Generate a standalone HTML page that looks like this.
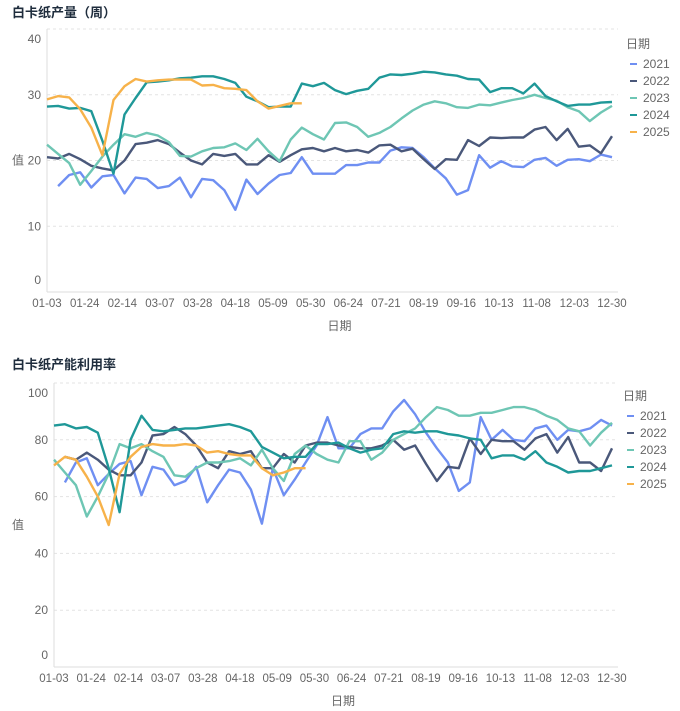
<!DOCTYPE html>
<html><head><meta charset="utf-8">
<style>
body{margin:0;background:#fff;width:680px;height:711px;overflow:hidden;font-family:"Liberation Sans","Noto Sans CJK SC",sans-serif;}
svg{position:absolute;left:0;}
text{font-family:"Liberation Sans","Noto Sans CJK SC",sans-serif;}
</style></head>
<body>
<svg id="c1" width="680" height="350" style="top:0"></svg>
<svg id="c2" width="680" height="361" style="top:350px"></svg>
<script>
const categories=["01-03","01-10","01-17","01-24","01-31","02-07","02-10","02-14","02-21","02-28","03-07","03-14","03-21","03-24","03-28","04-04","04-11","04-18","04-25","05-02","05-09","05-16","05-23","05-26","05-30","06-06","06-13","06-24","07-01","07-08","07-15","07-21","07-28","08-04","08-19","08-26","09-02","09-16","09-23","09-30","10-07","10-13","10-20","10-27","11-08","11-15","11-22","11-29","12-03","12-10","12-17","12-30"];
const tickLabels=["01-03","01-24","02-14","03-07","03-28","04-18","05-09","05-30","06-24","07-21","08-19","09-16","10-13","11-08","12-03","12-30"];
const seriesNames=["2021","2022","2023","2024","2025"];
const colors=["#6f8ff2","#4a587a","#6ec6b4","#1f9898","#f7b24a"];
const prodTicks=[0,10,20,30,40];
const utilTicks=[0,20,40,60,80,100];

const prod2021=[null,16.1,17.8,18.2,15.9,17.6,17.8,15,17.4,17.2,15.8,16.1,17.4,14.4,17.2,17,15.5,12.5,17.1,14.9,16.5,17.8,18.1,20.5,18,18,18,19.3,19.3,19.7,19.7,21.5,22,21.9,20.5,18.8,17.3,14.8,15.5,20.8,18.9,19.9,19.1,19,20.1,20.4,19.2,20.1,20.2,19.9,20.9,20.5];
const prod2022=[20.5,20.3,21,20.2,19.2,18.8,18.5,20,22.5,22.7,23.1,22.5,21.2,20,19.4,21,20.7,21,19.4,19.4,20.8,19.8,20.8,21.7,21.9,21.4,21.9,21.4,21.6,21.2,22.3,22.4,21.4,21.8,20.2,18.7,20.2,20.1,23.1,22.2,23.5,23.4,23.5,23.5,24.7,25.1,23.1,24.8,22.1,22.3,21.1,23.7];
const prod2023=[22.4,21,19.6,16.3,18.4,20.6,22.4,24,23.6,24.2,23.8,22.8,20.7,20.6,21.4,21.9,22,22.6,21.6,23.3,21.4,19.9,23.2,25,24,23.2,25.7,25.8,25.1,23.6,24.2,25.1,26.4,27.6,28.5,29,28.7,28.1,28,28.5,28.4,28.8,29.2,29.5,30,29.5,29.1,28.1,27.5,26,27.3,28.3];
const prod2024=[28.2,28.3,27.9,28,27.5,23,18,27,29.5,31.9,32,32.2,32.5,32.6,32.8,32.8,32.4,31.8,29.7,29,28.1,28.2,28.2,31.7,31.3,31.8,30.7,30.1,30.6,30.9,32.6,33.1,33,33.2,33.5,33.4,33.1,32.9,32.4,32.3,30.4,31,31,30.2,31.7,29.8,29,28.3,28.5,28.5,28.8,28.9];
const prod2025=[29.3,29.8,29.6,27.8,25,20.8,29.2,31.3,32.4,32,32.2,32.3,32.3,32.3,31.4,31.5,31,30.9,30.7,29,27.9,28.3,28.7,28.7];

const util2021=[null,65,72,73.5,64,68,71.5,72.5,60.5,70.5,69.5,64,65.5,70.5,58,64,69.5,68.5,62.5,50.5,70,60.5,66,72,78,88,77,77,82,84,84,90,94,89,82.5,77,72,62,65,88,80,83.5,80,79.5,84,85,80,83.5,83,84,87,85];
const util2022=[null,74,73,75.5,73,69.5,67.5,67.5,72,81.5,82,84.5,82,78,72,70,76,75,76,70,70,75,72,78,79,79,78,77.5,77,77,78,80,76.5,78,71.5,65.5,70.5,70,80.5,75,80,79.5,79.5,76.5,80.5,82,75.5,81,72,72,69,77];
const util2023=[73,68.5,64,53,60,68,78.5,77,78.5,76,74,67.5,67,70,72,72,72.5,73.5,71,76.5,70,65.5,75,78,75,73,72,79.5,79.5,73,75.5,80,82,84,88,91.5,90.5,88.5,88.5,89.5,89.5,90.5,91.5,91.5,90.5,88.5,87,84,83,78,82.5,86];
const util2024=[85,85.5,84,84.5,82.5,70,54.5,80,88.5,83.5,83,83.5,84,84,84.5,85,85.5,84.5,83,77.5,75.5,73.5,74,74,78.5,78.5,79,77,75.5,76.5,77,82,83,82.5,83,83,82,81.5,80.5,80,73.5,74.5,74.5,73,76,72,70.5,68.5,69,69,70,71];
const util2025=[71,74,73,67,60,50,68,74,77.5,78.5,78,78,78.5,78,75.5,76,75,74.5,74.5,70,67.5,68.5,70,70];

const NS="http://www.w3.org/2000/svg";
function mk(parent,tag,attrs,txt){const e=document.createElementNS(NS,tag);for(const k in attrs)e.setAttribute(k,attrs[k]);if(txt!==undefined)e.textContent=txt;parent.appendChild(e);return e;}

function drawChart(svgId,title,series,ticks,vmax,g){
  const svg=document.getElementById(svgId);
  const xs=i=>g.x0+(g.x1-g.x0)*i/(categories.length-1);
  const xt_=k=>g.x0+(g.x1-g.x0)*k/(tickLabels.length-1);
  const ys=v=>g.yb-(g.yb-g.yt)*v/vmax;
  const t=mk(svg,'text',{x:12,y:g.titleY,'font-size':13,'font-weight':'bold',fill:'#1f2d3d'},title);
  
  
  ticks.forEach(v=>{
    if(v>0){const gl=mk(svg,'line',{x1:g.x0,x2:g.x1+6,y1:ys(v),y2:ys(v),stroke:'#e3e3e3','stroke-dasharray':'3,3'});
    
    }
    let ly=ys(v)+4; if(v===vmax)ly+=10; if(v===0)ly-=12;
    const tl=mk(svg,'text',{x:g.x0-6,y:ly,'font-size':12,fill:'#666','text-anchor':'end'},String(v));
    
    
  });
  const ax=mk(svg,'line',{x1:g.x0,x2:g.x0,y1:g.yt,y2:g.yb,stroke:'#ddd'});
  
  
  const bx=mk(svg,'line',{x1:g.x0,x2:g.x1+6,y1:g.yb,y2:g.yb,stroke:'#ddd'});
  
  
  const yt=mk(svg,'text',{x:12,y:(g.yt+g.yb)/2+4,'font-size':12,fill:'#666'},'值');
  
  
  tickLabels.forEach((c,k)=>{
    const xl=mk(svg,'text',{x:xt_(k),y:g.yb+15,'font-size':11.5,fill:'#666','text-anchor':'middle'},c);
    
    
  });
  const xt=mk(svg,'text',{x:(g.x0+g.x1)/2+10,y:g.yb+38,'font-size':12,fill:'#666','text-anchor':'middle'},'日期');
  
  
  series.forEach((arr,s)=>{
    let d='';let pen=false;
    arr.forEach((v,i)=>{if(v===null){pen=false;return;}d+=(pen?'L':'M')+xs(i).toFixed(1)+' '+ys(v).toFixed(1);pen=true;});
    const p=mk(svg,'path',{d:d,fill:'none',stroke:colors[s],'stroke-width':2.4,'stroke-linejoin':'round'});
    
    
  });
  const lt=mk(svg,'text',{x:g.lx-4,y:g.ly,'font-size':12,fill:'#666'},'日期');
  
  
  seriesNames.forEach((n,s)=>{
    const y=g.ly+20+s*17;
    const m=mk(svg,'line',{x1:g.lx,x2:g.lx+7,y1:y-4,y2:y-4,stroke:colors[s],'stroke-width':2});
    
    
    const lx=mk(svg,'text',{x:g.lx+13,y:y,'font-size':12,fill:'#666'},n);
    
    
  });
}
drawChart('c1','白卡纸产量（周）',[prod2021,prod2022,prod2023,prod2024,prod2025],prodTicks,40,{x0:47,x1:612,yt:29,yb:292,titleY:17,lx:630,ly:48});
drawChart('c2','白卡纸产能利用率',[util2021,util2022,util2023,util2024,util2025],utilTicks,100,{x0:54,x1:612,yt:33,yb:317,titleY:19,lx:627,ly:50});
</script>
</body></html>
